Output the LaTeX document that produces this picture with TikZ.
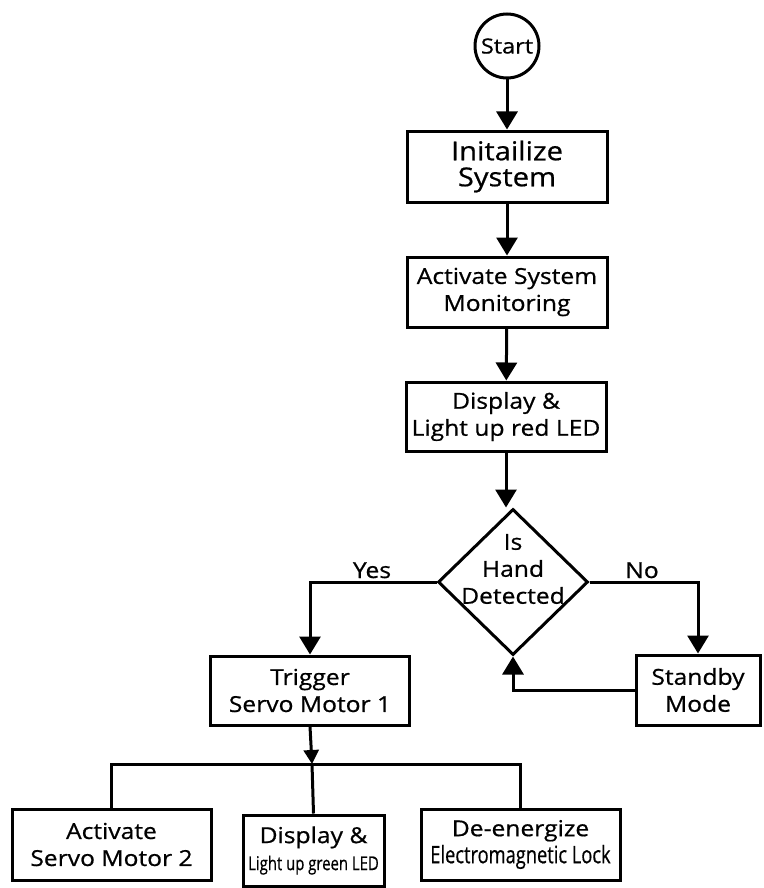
\documentclass[tikz,border=0pt]{standalone}
\usepackage{fontspec}
\usepackage{graphicx}
\setmainfont{Open Sans}[FakeBold=0.7,FakeStretch=1.12]
\usetikzlibrary{shapes.geometric,arrows.meta}
\tikzset{
  x=1pt,y=-1pt,
  line/.style={line width=3pt,draw=black},
  arr/.style={line, -{Triangle[width=21pt,length=18pt]}},
  sarr/.style={line, -{Triangle[width=15pt,length=14pt]}},
  box/.style={draw=black,line width=3pt,rectangle,align=center,inner sep=0pt,font=\fontsize{22}{27}\selectfont},
  lbl/.style={font=\fontsize{22}{27}\selectfont,inner sep=0pt}
}
\begin{document}
\begin{tikzpicture}
\useasboundingbox (0,0) rectangle (763,888);
\node[draw=black,line width=3pt,circle,minimum size=64pt,inner sep=0pt,font=\fontsize{21}{25}\selectfont] (start) at (507,46) {Start};
\node[box,minimum width=200pt,minimum height=71pt,font=\fontsize{26}{26}\selectfont] (init) at (507,166.5) {Initailize\\System};
\node[box,minimum width=200pt,minimum height=70pt] (act) at (507,292) {Activate System\\Monitoring};
\node[box,minimum width=200pt,minimum height=69pt] (disp) at (506,416.5) {Display \&\\Light up red LED};
\node[draw=black,line width=3pt,diamond,minimum width=150pt,minimum height=146pt,inner sep=0pt] (dec) at (513,582) {};
\node[align=center,inner sep=0pt,font=\fontsize{22}{27}\selectfont] (dect) at (513,569) {Is\\Hand\\Detected};
\node[box,minimum width=199pt,minimum height=69pt] (trig) at (310,690.5) {Trigger\\Servo Motor 1};
\node[box,minimum width=124pt,minimum height=70pt] (stand) at (698,690) {Standby\\Mode};
\node[box,minimum width=199pt,minimum height=71pt] (b1) at (111.5,844.5) {Activate\\Servo Motor 2};
\node[box,minimum width=141pt,minimum height=71pt] (b2) at (313.5,850.5) {Display \&\\{\fontsize{19}{22}\selectfont\scalebox{0.7}[1]{Light up green LED}}};
\node[box,minimum width=199pt,minimum height=71pt] (b3) at (520.5,844.5) {De-energize\\\scalebox{0.68}[1]{\fontsize{24}{26}\selectfont Electromagnetic Lock}};
\coordinate (j) at (312,764);

\draw[arr] (start) -- (init);
\draw[arr] (init) -- (act);
\draw[arr] (act) -- (disp);
\draw[arr] (disp.south) -- (disp.south |- dec.north);
\draw[arr] (dec.west) -| (trig.north);
\draw[arr] (dec.east) -| (stand.north);
\draw[arr] (stand.west) -| (dec.south);
\draw[sarr] (trig.south) -- (j);
\draw[line] (b1.north) |- (j) -| (b3.north);
\draw[line] (j) -- (b2.north);
\node[lbl,anchor=base] (yes) at (372,578) {Yes};
\node[lbl,anchor=base] (no) at (642,578) {No};
\end{tikzpicture}
\end{document}
